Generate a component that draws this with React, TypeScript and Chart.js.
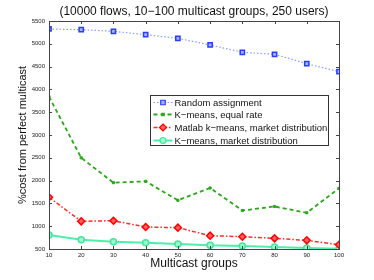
import React, { useEffect, useRef } from "react";
import { Chart, registerables } from "chart.js";

Chart.register(...registerables);

const groups = [10, 20, 30, 40, 50, 60, 70, 80, 90, 100];
const randomAssign = [5325, 5310, 5274, 5200, 5120, 4974, 4814, 4770, 4564, 4388];
const kmeansEqual = [3840, 2500, 1954, 1984, 1568, 1838, 1344, 1432, 1294, 1830];
const matlabMarket = [1634, 1107, 1120, 982, 968, 792, 770, 734, 690, 594];
const kmeansMarket = [807, 704, 660, 638, 610, 580, 566, 544, 522, 507];
const yTicks = [500, 1000, 1500, 2000, 2500, 3000, 3500, 4000, 4500, 5000, 5500];
const xTicks = [10, 20, 30, 40, 50, 60, 70, 80, 90, 100];
const chartTitle = "(10000 flows, 10\u2212100 multicast groups, 250 users)";

const FONT = "'Liberation Sans', Arial, Helvetica, sans-serif";

const boxPlugin = {
  id: "matlabBox",
  afterDatasetsDraw(chart: any) {
    const { ctx, chartArea: a, scales } = chart;
    ctx.save();
    ctx.strokeStyle = "#444";
    ctx.lineWidth = 1;
    ctx.strokeRect(Math.round(a.left) + 0.5, Math.round(a.top) + 0.5, Math.round(a.right - a.left), Math.round(a.bottom - a.top));
    const tl = 3;
    ctx.beginPath();
    for (const v of xTicks) {
      const x = Math.round(scales.x.getPixelForValue(v)) + 0.5;
      ctx.moveTo(x, a.bottom);
      ctx.lineTo(x, a.bottom - tl);
      ctx.moveTo(x, a.top);
      ctx.lineTo(x, a.top + tl);
    }
    for (const v of yTicks) {
      const y = Math.round(scales.y.getPixelForValue(v)) + 0.5;
      ctx.moveTo(a.left, y);
      ctx.lineTo(a.left + tl, y);
      ctx.moveTo(a.right, y);
      ctx.lineTo(a.right - tl, y);
    }
    ctx.stroke();
    ctx.restore();
  },
  afterDraw(chart: any) {
    const { ctx, chartArea: a } = chart;
    const ds = chart.data.datasets;
    ctx.save();
    // title centred over the plot area
    ctx.fillStyle = "#111";
    ctx.font = `12px ${FONT}`;
    ctx.textAlign = "center";
    ctx.textBaseline = "middle";
    ctx.fillText(chartTitle, (a.left + a.right) / 2, 11.5);
    ctx.textAlign = "left";

    const bx = 150.5, by = 95.5, bw = 178, bh = 50;
    ctx.fillStyle = "#fff";
    ctx.fillRect(bx, by, bw, bh);
    ctx.strokeStyle = "#333";
    ctx.lineWidth = 1;
    ctx.strokeRect(bx, by, bw, bh);
    ctx.font = `9.5px ${FONT}`;
    ds.forEach((d: any, i: number) => {
      const y = Math.round(by + 6 + i * 12.7) + 0.5;
      ctx.strokeStyle = d.borderColor;
      ctx.lineWidth = d.borderWidth;
      ctx.setLineDash(d.borderDash || []);
      ctx.beginPath();
      ctx.moveTo(bx + 3, y);
      ctx.lineTo(bx + 22, y);
      ctx.stroke();
      ctx.setLineDash([]);
      const cx = bx + 12.5;
      ctx.fillStyle = d.pointBackgroundColor;
      ctx.strokeStyle = d.pointBorderColor;
      ctx.lineWidth = 1.2;
      const r = d.pointRadius;
      ctx.beginPath();
      if (d.pointStyle === "rect") {
        ctx.rect(cx - r * 0.75, y - r * 0.75, r * 1.5, r * 1.5);
      } else if (d.pointStyle === "rectRot") {
        ctx.moveTo(cx, y - r);
        ctx.lineTo(cx + r, y);
        ctx.lineTo(cx, y + r);
        ctx.lineTo(cx - r, y);
        ctx.closePath();
      } else {
        ctx.arc(cx, y, r, 0, Math.PI * 2);
      }
      ctx.fill();
      ctx.stroke();
      ctx.fillStyle = "#111";
      ctx.fillText(d.label, bx + 24, y + 0.5);
    });
    ctx.restore();
  },
};

export default function App() {
  const ref = useRef<HTMLCanvasElement>(null);
  useEffect(() => {
    document.body.style.margin = "0";
    const chart = new Chart(ref.current!, {
      type: "line",
      data: {
        labels: groups,
        datasets: [
          {
            label: "Random assignment",
            data: randomAssign,
            borderColor: "#8a9cff",
            borderWidth: 1.2,
            borderDash: [1.5, 2],
            pointStyle: "rect",
            pointRadius: 3,
            pointBackgroundColor: "#a8b4ff",
            pointBorderColor: "#2a3cff",
            pointBorderWidth: 1.5,
          },
          {
            label: "K\u2212means, equal rate",
            data: kmeansEqual,
            borderColor: "#2aa81a",
            borderWidth: 1.8,
            borderDash: [4, 3],
            pointStyle: "rect",
            pointRadius: 1.5,
            pointBackgroundColor: "#2aa81a",
            pointBorderColor: "#2aa81a",
            pointBorderWidth: 1,
          },
          {
            label: "Matlab k\u2212means, market distribution",
            data: matlabMarket,
            borderColor: "#ff2a2a",
            borderWidth: 1.5,
            borderDash: [4, 2, 1.5, 2],
            pointStyle: "rectRot",
            pointRadius: 3.5,
            pointBackgroundColor: "#ff6060",
            pointBorderColor: "#ff0000",
            pointBorderWidth: 1.5,
          },
          {
            label: "K\u2212means, market distribution",
            data: kmeansMarket,
            borderColor: "#4ef0a8",
            borderWidth: 2,
            borderDash: [],
            pointStyle: "circle",
            pointRadius: 3,
            pointBackgroundColor: "#9ff7cf",
            pointBorderColor: "#3ee89c",
            pointBorderWidth: 1.5,
          },
        ],
      },
      options: {
        animation: false,
        responsive: false,
        layout: { padding: { left: 0, right: 35, top: 21, bottom: 9 } },
        plugins: {
          legend: { display: false },
          tooltip: { enabled: false },
          title: { display: false },
        },
        scales: {
          x: {
            type: "linear",
            min: 10,
            max: 100,
            afterBuildTicks: (s: any) => {
              s.ticks = xTicks.map((v) => ({ value: v }));
            },
            afterFit: (s: any) => {
              s.height = 22;
            },
            grid: { display: false, drawTicks: false },
            border: { display: false },
            ticks: {
              color: "#222",
              font: { family: FONT, size: 6 },
              padding: 3,
              maxRotation: 0,
              callback: (v: any) => String(v),
            },
            title: {
              display: true,
              text: "Multicast groups",
              color: "#111",
              font: { family: FONT, size: 12 },
              padding: { top: 0, bottom: 0 },
            },
          },
          y: {
            type: "linear",
            min: 500,
            max: 5500,
            afterBuildTicks: (s: any) => {
              s.ticks = yTicks.map((v) => ({ value: v }));
            },
            afterFit: (s: any) => {
              s.width = 49;
            },
            grid: { display: false, drawTicks: false },
            border: { display: false },
            ticks: {
              color: "#222",
              font: { family: FONT, size: 6 },
              padding: 4,
              callback: (v: any) => String(v),
            },
            title: {
              display: true,
              text: "%cost from perfect multicast",
              color: "#111",
              font: { family: FONT, size: 11 },
              padding: { top: 16, bottom: 0 },
            },
          },
        },
      },
      plugins: [boxPlugin],
    });
    return () => chart.destroy();
  }, []);
  return (
    <div style={{ position: "absolute", left: 0, top: 0, width: 374, height: 280 }}>
      <canvas ref={ref} width={374} height={280} style={{ width: 374, height: 280 }} />
    </div>
  );
}
